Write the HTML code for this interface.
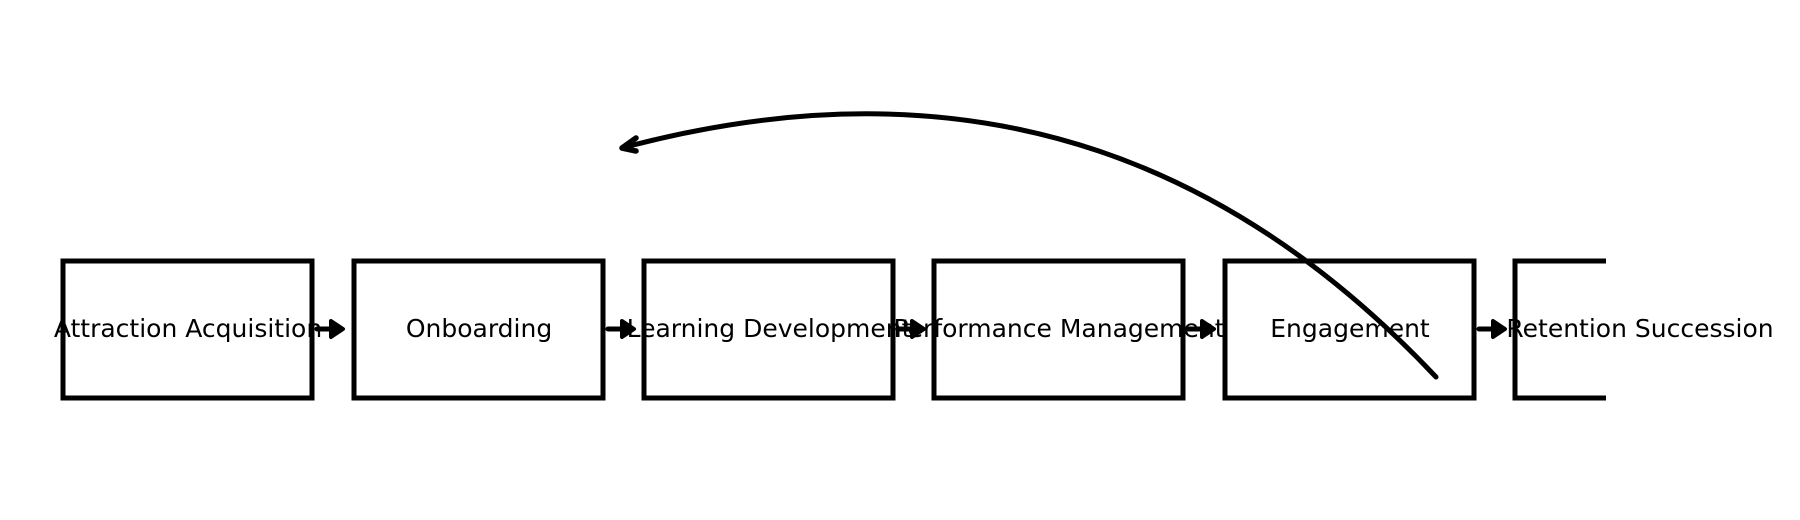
<!DOCTYPE html>
<html><head><meta charset="utf-8"><style>
html,body{margin:0;padding:0;background:#fff;}
svg{display:block;}
text{font-family:"DejaVu Sans","Liberation Sans",sans-serif;font-size:25px;fill:#000;}
</style></head><body>
<svg width="1800" height="520" viewBox="0 0 1800 520" xmlns="http://www.w3.org/2000/svg">
<g fill="none" stroke="#000" stroke-width="5">
<rect x="63" y="261" width="249" height="137"/>
<rect x="354" y="261" width="249" height="137"/>
<rect x="644" y="261" width="249" height="137"/>
<rect x="934" y="261" width="249" height="137"/>
<rect x="1225" y="261" width="249" height="137"/>
<path d="M1606,261 H1515 V398 H1606"/>
</g>
<g text-anchor="middle">
<text x="188" y="337">Attraction Acquisition</text>
<text x="479" y="337">Onboarding</text>
<text x="769" y="337">Learning Development</text>
<text x="1059" y="337">Performance Management</text>
<text x="1350" y="337">Engagement</text>
<text x="1640" y="337">Retention Succession</text>
</g>
<g stroke="#000" stroke-width="5" fill="none" stroke-linecap="round">
<line x1="317" y1="329" x2="336" y2="329"/>
<line x1="608" y1="329" x2="627" y2="329"/>
<line x1="898" y1="329" x2="917" y2="329"/>
<line x1="1188" y1="329" x2="1207" y2="329"/>
<line x1="1479" y1="329" x2="1498" y2="329"/>
</g>
<g fill="#000" stroke="#000" stroke-width="4" stroke-linejoin="round">
<path d="M331,321 L343,329 L331,337 Z"/>
<path d="M622,321 L634,329 L622,337 Z"/>
<path d="M912,321 L924,329 L912,337 Z"/>
<path d="M1202,321 L1214,329 L1202,337 Z"/>
<path d="M1493,321 L1505,329 L1493,337 Z"/>
</g>
<path d="M1436,377 C1250,180 995,48 622,148" fill="none" stroke="#000" stroke-width="5" stroke-linecap="round"/>
<path d="M636,138 L622,148 L636,151" fill="none" stroke="#000" stroke-width="5.5" stroke-linecap="round" stroke-linejoin="round"/>
</svg>
</body></html>
